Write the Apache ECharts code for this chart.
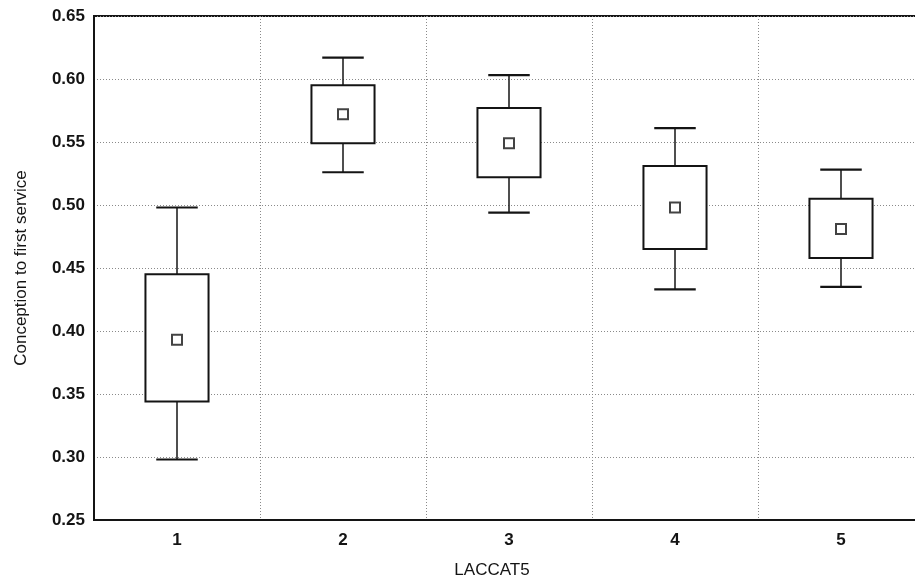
<!DOCTYPE html>
<html>
<head>
<meta charset="utf-8">
<title>Conception to first service by LACCAT5</title>
<script src="https://cdn.jsdelivr.net/npm/echarts@6/dist/echarts.min.js"></script>
<style>
    html, body { margin: 0; padding: 0; background: #fff; }
    #box_chart { width: 915px; height: 585px; }
</style>
</head>
<body>
<div id="box_chart"></div>
<script>

// Chart data
// ------------------------------

var categories = ['1', '2', '3', '4', '5'];
var whiskerLow = [0.298, 0.526, 0.494, 0.433, 0.435];
var boxLow = [0.344, 0.549, 0.522, 0.465, 0.458];
var means = [0.393, 0.572, 0.549, 0.498, 0.481];
var boxHigh = [0.445, 0.595, 0.577, 0.531, 0.505];
var whiskerHigh = [0.498, 0.617, 0.603, 0.561, 0.528];
var yTicks = [0.25, 0.30, 0.35, 0.40, 0.45, 0.50, 0.55, 0.60, 0.65];


// Setup module
// ------------------------------

var EchartsBoxMeans = function() {

    var _boxMeansExample = function() {
        if (typeof echarts == 'undefined') {
            console.warn('Warning - echarts.min.js is not loaded.');
            return;
        }

        var box_element = document.getElementById('box_chart');
        if (!box_element) return;

        var box_chart = echarts.init(box_element, null, { renderer: 'canvas' });

        // Rows for the custom box series: [index, low whisker, box low, box high, high whisker]
        var boxData = categories.map(function(c, i) {
            return [i, whiskerLow[i], boxLow[i], boxHigh[i], whiskerHigh[i]];
        });

        var ink = '#141414';

        // Draw one box with whiskers
        var renderBox = function(params, api) {
            var idx = api.value(0);
            var catWidth = api.size([1, 0])[0];
            var boxHalf = catWidth * 0.19;
            var capHalf = catWidth * 0.125;
            var pLow = api.coord([idx, api.value(1)]);
            var pQ1 = api.coord([idx, api.value(2)]);
            var pQ3 = api.coord([idx, api.value(3)]);
            var pHigh = api.coord([idx, api.value(4)]);
            var cx = pQ1[0];

            return {
                type: 'group',
                children: [
                    {
                        type: 'line',
                        shape: { x1: cx, y1: pHigh[1], x2: cx, y2: pQ3[1] },
                        style: { stroke: ink, lineWidth: 1.5 }
                    },
                    {
                        type: 'line',
                        shape: { x1: cx, y1: pQ1[1], x2: cx, y2: pLow[1] },
                        style: { stroke: ink, lineWidth: 1.5 }
                    },
                    {
                        type: 'line',
                        shape: { x1: cx - capHalf, y1: pHigh[1], x2: cx + capHalf, y2: pHigh[1] },
                        style: { stroke: ink, lineWidth: 2.2 }
                    },
                    {
                        type: 'line',
                        shape: { x1: cx - capHalf, y1: pLow[1], x2: cx + capHalf, y2: pLow[1] },
                        style: { stroke: ink, lineWidth: 2.2 }
                    },
                    {
                        type: 'rect',
                        shape: { x: cx - boxHalf, y: pQ3[1], width: boxHalf * 2, height: pQ1[1] - pQ3[1] },
                        style: { fill: '#fff', stroke: ink, lineWidth: 2 }
                    }
                ]
            };
        };

        box_chart.setOption({

            animation: false,

            textStyle: {
                fontFamily: 'Liberation Sans, Arial, sans-serif',
                color: ink
            },

            // Plot area runs past the right edge, so only the top frame line shows there
            grid: {
                left: 94,
                width: 830,
                top: 16,
                bottom: 65,
                outerBoundsMode: 'none',
                containLabel: false,
                show: true,
                backgroundColor: 'transparent',
                borderColor: ink,
                borderWidth: 2
            },

            // Horizontal axis
            xAxis: {
                type: 'category',
                data: categories,
                name: 'LACCAT5',
                nameLocation: 'middle',
                nameGap: 42,
                nameTextStyle: { fontSize: 17, color: ink, padding: [0, 34, 0, 0] },
                axisLine: { show: true, lineStyle: { color: ink, width: 2 } },
                axisTick: { show: false },
                axisLabel: { fontSize: 17, fontWeight: 'bold', color: ink, margin: 12 },
                splitLine: {
                    show: true,
                    lineStyle: { color: '#8a8a8a', width: 1, type: [1, 2] }
                }
            },

            // Vertical axis
            yAxis: {
                type: 'value',
                min: yTicks[0],
                max: yTicks[yTicks.length - 1],
                interval: 0.05,
                name: 'Conception to first service',
                nameLocation: 'middle',
                nameGap: 64,
                nameTextStyle: { fontSize: 17, color: ink },
                axisLine: { show: true, lineStyle: { color: ink, width: 2 } },
                axisTick: { show: false },
                axisLabel: {
                    fontSize: 17,
                    fontWeight: 'bold',
                    color: ink,
                    margin: 9,
                    formatter: function(v) { return v.toFixed(2); }
                },
                splitLine: {
                    show: true,
                    lineStyle: { color: '#8a8a8a', width: 1, type: [1, 2] }
                }
            },

            series: [
                {
                    name: 'Box',
                    type: 'custom',
                    renderItem: renderBox,
                    encode: { x: 0, y: [1, 2, 3, 4] },
                    data: boxData,
                    z: 2
                },
                {
                    name: 'Mean',
                    type: 'scatter',
                    symbol: 'rect',
                    symbolSize: 10,
                    itemStyle: { color: '#fff', borderColor: ink, borderWidth: 2 },
                    data: means,
                    z: 3
                }
            ]
        });

        window.addEventListener('resize', function() {
            box_chart.resize();
        });
    };

    return {
        init: function() {
            _boxMeansExample();
        }
    }
}();


// Initialize module
// ------------------------------

document.addEventListener('DOMContentLoaded', function() {
    EchartsBoxMeans.init();
});
</script>
</body>
</html>
